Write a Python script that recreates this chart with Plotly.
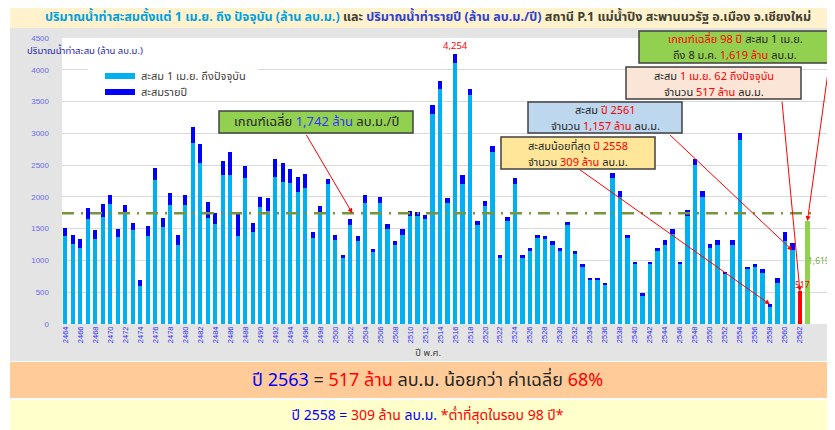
import plotly.graph_objects as go

# ---------------- data ----------------
years = list(range(2464, 2562))
acc_to_date = [1379, 1258, 1200, 1660, 1337, 1684, 1895, 1368, 1758, 1484,
               600, 1389, 2263, 1526, 1868, 1247, 1868, 2842, 2540, 1665,
               1574, 2342, 2352, 1384, 2290, 1448, 1840, 1774, 2310, 2237,
               2216, 2074, 2147, 1360, 1760, 2200, 1320, 1050, 1560, 1300,
               1900, 1130, 1900, 1500, 1250, 1400, 1700, 1700, 1650, 3300,
               3700, 1900, 4100, 2200, 3600, 1560, 1850, 2700, 1050, 1620,
               2200, 1050, 1150, 1350, 1350, 1250, 1150, 1550, 1100, 900,
               700, 700, 620, 2300, 2000, 1350, 950, 450, 950, 1150,
               1250, 1420, 950, 1700, 2500, 2000, 1200, 1250, 790, 1250,
               2900, 870, 900, 800, 270, 650, 1300, 1157]
annual_total = [1505, 1395, 1330, 1830, 1485, 1890, 2035, 1495, 1875, 1595,
                689, 1537, 2447, 1674, 2063, 1395, 2028, 3098, 2826, 1921,
                1748, 2560, 2708, 1734, 2484, 1592, 1997, 1979, 2595, 2526,
                2442, 2316, 2368, 1450, 1850, 2280, 1400, 1080, 1660, 1380,
                2030, 1180, 2000, 1580, 1300, 1490, 1780, 1760, 1720, 3450,
                3830, 1990, 4254, 2350, 3700, 1620, 1930, 2800, 1080, 1680,
                2300, 1080, 1200, 1400, 1380, 1300, 1200, 1600, 1150, 950,
                730, 720, 650, 2370, 2100, 1400, 980, 480, 980, 1200,
                1320, 1500, 980, 1800, 2600, 2100, 1260, 1320, 820, 1320,
                3000, 900, 950, 860, 309, 720, 1440, 1270]
current_year = 2562
current_acc = 517
avg_to_date = 1619
avg_annual = 1742
n_years = 98
tick_years = list(range(2464, 2563, 2))

# ---------------- geometry (reference-page pixels -> paper) ----------------
OFF = 8                       # the page body margin the figure sits in
W, H = 835 - OFF, 430 - OFF
PL, PR, PT, PB = 62, 830, 38, 324   # plot area in page pixels
ML, MR, MT, MB = PL - OFF, W - (PR - OFF), PT - OFF, H - (PB - OFF)
PW, PH = W - ML - MR, H - MT - MB


def fx(px):
    return (px - PL) / PW


def fy(py):
    return (PB - py) / PH


FONT = "Tahoma, 'Leelawadee UI', 'Noto Sans Thai', Garuda, Loma, 'Noto Sans', sans-serif"
RED = "#FF0000"
DARK = "#262626"

upper = [t - a for t, a in zip(annual_total, acc_to_date)]
bw = 0.57

fig = go.Figure()
fig.add_bar(x=years, y=acc_to_date, marker=dict(color="#00B0F0", line=dict(width=0)),
            width=bw, name="สะสม 1 เม.ย. ถึงปัจจุบัน")
fig.add_bar(x=years, y=upper, marker=dict(color="#0000FF", line=dict(width=0)),
            width=bw, name="สะสมรายปี")
fig.add_bar(x=[current_year], y=[current_acc], marker=dict(color="#FF0000", line=dict(width=0)),
            width=bw)
fig.add_bar(x=[current_year + 1], y=[avg_to_date], marker=dict(color="#92D050", line=dict(width=0)),
            width=bw)

shapes = []


def rect(x0, x1, y0, y1, fill, layer="below", line=None):
    shapes.append(dict(type="rect", xref="paper", yref="paper", x0=fx(x0), x1=fx(x1),
                       y0=fy(y1), y1=fy(y0), fillcolor=fill,
                       line=line if line else dict(width=0), layer=layer))


# backgrounds
rect(10, 840, 4, 28, "#FFF2CC")
rect(10, 840, 28, 361, "#E4E4E4")
rect(10, 840, 362, 398, "#FFCC99")
rect(10, 840, 400, 440, "#FFFFCC")
rect(PL, PR, PT, PB, "white")
# average line
shapes.append(dict(type="line", xref="paper", yref="y", x0=0, x1=fx(816), y0=avg_annual, y1=avg_annual,
                   line=dict(color="#77933C", width=2.5, dash="12px,7px,2px,7px"), layer="above"))
# legend
rect(88, 258, 64, 99, "white", "above")
rect(105, 135, 73, 79, "#00B0F0", "above")
rect(105, 135, 89, 95, "#0000FF", "above")

ann = []


def txt(px, py, text, size, color=DARK, xanchor="center", **kw):
    ann.append(dict(xref="paper", yref="paper", x=fx(px), y=fy(py), text=text, showarrow=False,
                    xanchor=xanchor, yanchor="middle", font=dict(family=FONT, size=size, color=color), **kw))


def box(x0, x1, y0, y1, lines, fill, size=11):
    rect(x0, x1, y0, y1, fill, "above", dict(color="#404040", width=1.5))
    cx = (x0 + x1) / 2
    if len(lines) == 1:
        txt(cx, (y0 + y1) / 2, lines[0], size)
    else:
        txt(cx, y0 + 9, lines[0], size)
        txt(cx, y1 - 7, lines[1], size)


def r(s):
    return f"<span style='color:{RED}'>{s}</span>"


# title
title = ("<b><span style='color:#00A0E0'>ปริมาณน้ำท่าสะสมตั้งแต่ 1 เม.ย. ถึง ปัจจุบัน (ล้าน ลบ.ม.)</span> "
         "และ <span style='color:#2E3FD0'>ปริมาณน้ำท่ารายปี (ล้าน ลบ.ม./ปี)</span> "
         "สถานี P.1 แม่น้ำปิง สะพานนวรัฐ อ.เมือง จ.เชียงใหม่</b>")
txt(428, 17, title, 12.6, color="#404030")

# y title
txt(25, 51, "ปริมาณน้ำท่าสะสม (ล้าน ลบ.ม.)", 9.5, color="#1F1FB0", xanchor="left")
# x title
txt(428, 353, "ปี พ.ศ.", 9.5, color="#404040")

# legend text
txt(139, 76, "สะสม 1 เม.ย. ถึงปัจจุบัน", 11, color="#404040", xanchor="left")
txt(139, 92, "สะสมรายปี", 11, color="#404040", xanchor="left")

# boxes
box(219, 413, 111, 133,
    [f"เกณฑ์เฉลี่ย <span style='color:#3333FF'>{avg_annual:,} ล้าน</span> ลบ.ม./ปี"], "#92D050", 13)
box(639, 831, 31, 63,
    [f"{r(f'เกณฑ์เฉลี่ย {n_years} ปี')} สะสม 1 เม.ย.",
     f"ถึง 8 ม.ค. {r(f'{avg_to_date:,} ล้าน')} ลบ.ม."], "#92D050")
box(626, 801, 67, 99,
    [f"สะสม {r('1 เม.ย. 62 ถึงปัจจุบัน')}",
     f"จำนวน {r(f'{current_acc} ล้าน')} ลบ.ม."], "#FBE5D6")
last_year_acc = acc_to_date[-1]
box(528, 682, 102, 133,
    [f"สะสม {r(f'ปี {years[-1]}')}",
     f"จำนวน {r(f'{last_year_acc:,} ล้าน')} ลบ.ม."], "#BDD7EE")
min_i = min(range(len(annual_total)), key=lambda i: annual_total[i])
min_year, min_val = years[min_i], annual_total[min_i]
box(501, 655, 137, 169,
    [f"สะสมน้อยที่สุด {r(f'ปี {min_year}')}",
     f"จำนวน {r(f'{min_val} ล้าน')} ลบ.ม."], "#FFE699")


# arrows
def arrow(x, y, ax, ay):
    ann.append(dict(x=x, y=y, xref="x", yref="y", ax=ax, ay=ay, text="", showarrow=True,
                    arrowhead=2, arrowsize=1, arrowwidth=1, arrowcolor=RED, standoff=0))


arrow(2502.3, avg_annual, -47, -80)
arrow(current_year + 1, avg_to_date, 22, -159)
arrow(current_year, current_acc, -18, -191)
arrow(years[-1], last_year_acc, -124, -117)
arrow(min_year, min_val, -192, -136)

# value labels
pk = max(range(len(annual_total)), key=lambda i: annual_total[i])
ann.append(dict(x=years[pk], y=annual_total[pk], xref="x", yref="y", text=f"{annual_total[pk]:,}",
                showarrow=False, yshift=8, font=dict(family=FONT, size=9.5, color=RED)))
ann.append(dict(x=current_year, y=current_acc, xref="x", yref="y", text=f"{current_acc}",
                showarrow=False, xshift=3, yshift=6, font=dict(family=FONT, size=8.5, color=RED)))
ann.append(dict(x=current_year + 1, y=avg_to_date, xref="x", yref="y", text=f"{avg_to_date:,}",
                showarrow=False, xshift=12, yshift=-40, font=dict(family=FONT, size=8.5, color="#70AD47")))

# bottom texts
pct = round((1 - current_acc / avg_to_date) * 100)
txt(427, 380,
    f"<span style='color:#0000FF'>ปี {current_year + 1}</span> = {r(f'{current_acc} ล้าน')} ลบ.ม. "
    f"น้อยกว่า ค่าเฉลี่ย {r(f'{pct}%')}", 18, color="#262626")
txt(427, 415,
    f"<span style='color:#0000FF'>ปี {min_year} = </span>{r(f'{min_val} ล้าน')}"
    f"<span style='color:#0000FF'> ลบ.ม. </span>{r(f'*ต่ำที่สุดในรอบ {n_years} ปี*')}", 14)

x_lo = years[0] - 3.3 / 7.496
x_hi = current_year + (PR - 799.9) / 7.496

fig.update_layout(
    width=W, height=H, margin=dict(l=ML, r=MR, t=MT, b=MB, pad=0, autoexpand=False),
    paper_bgcolor="white", plot_bgcolor="rgba(0,0,0,0)",
    barmode="stack", bargap=0, showlegend=False,
    shapes=shapes, annotations=ann,
    font=dict(family=FONT),
    xaxis=dict(range=[x_lo, x_hi], tickvals=tick_years, ticktext=[str(v) for v in tick_years],
               tickangle=-90, tickfont=dict(size=7.5, color="#2A2AFF", family="Liberation Sans"),
               showgrid=False, zeroline=False, showline=False, ticks="", automargin=False),
    yaxis=dict(range=[0, 4500], dtick=500, tick0=0, gridcolor="#D9D9D9", gridwidth=1,
               tickfont=dict(size=8, color="#6A6AEE", family="Liberation Sans"),
               zeroline=False, showline=False, ticks="", ticklabelstandoff=12, automargin=False),
)

fig.write_html("out.html")
